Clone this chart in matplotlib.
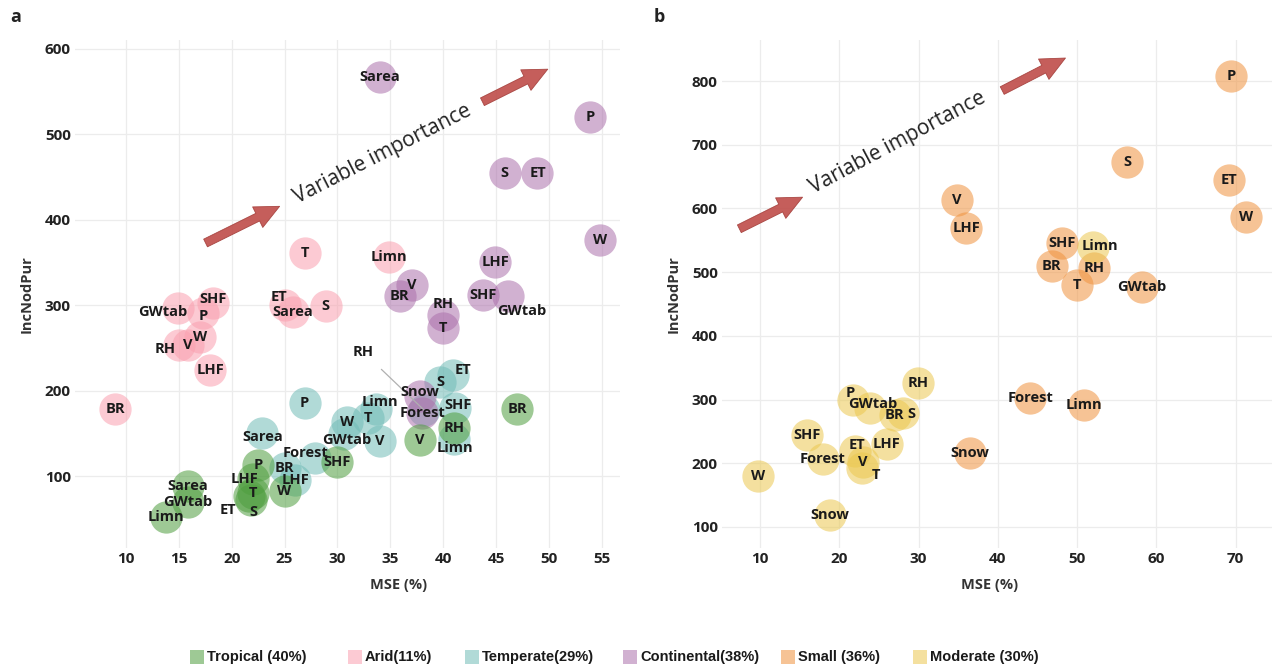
import matplotlib
matplotlib.use("Agg")
import matplotlib.pyplot as plt
from matplotlib.lines import Line2D

plt.rcParams["font.family"] = ["Open Sans", "DejaVu Sans"]

# ---------------- panel a: climate zones ----------------
trop_lab = ["Sarea", "GWtab", "Limn", "P", "LHF", "T", "S", "ET", "W", "SHF", "V", "RH", "BR"]
trop_mse = [15.9, 15.9, 13.8, 22.5, 22.0, 22.0, 21.8, 21.6, 25.0, 30.0, 37.8, 41.0, 47.0]
trop_inc = [88, 69, 52, 113, 96, 80, 72, 77, 83, 116, 142, 156, 178]

arid_lab = ["BR", "GWtab", "SHF", "P", "RH", "V", "W", "LHF", "T", "ET", "Sarea", "S", "Limn"]
arid_mse = [9.0, 14.9, 18.2, 17.3, 15.0, 15.9, 17.0, 18.0, 26.9, 25.0, 25.8, 28.9, 34.9]
arid_inc = [178, 297, 302, 291, 253, 253, 263, 224, 361, 300, 292, 299, 356]

temp_lab = ["Sarea", "P", "W", "T", "Limn", "V", "GWtab", "Forest", "LHF", "BR",
            "S", "ET", "SHF", "Limn", "RH"]
temp_mse = [22.9, 26.9, 30.9, 32.9, 33.6, 34.0, 30.6, 27.9, 26.0, 25.0,
            39.7, 40.9, 41.1, 41.0, 38.2]
temp_inc = [150, 186, 163, 168, 178, 141, 149, 121, 95, 109,
            210, 218, 180, 143, 177]

cont_lab = ["Sarea", "P", "S", "ET", "W", "LHF", "V", "BR", "SHF", "GWtab",
            "RH", "T", "Snow", "Forest"]
cont_mse = [34.0, 53.9, 45.8, 48.9, 54.8, 44.9, 37.0, 35.9, 43.8, 46.1,
            40.0, 40.0, 37.8, 38.0]
cont_inc = [567, 520, 455, 455, 376, 351, 324, 311, 312, 311,
            288, 273, 194, 174]

# ---------------- panel b: catchment size ----------------
small_lab = ["P", "S", "ET", "W", "V", "LHF", "SHF", "BR", "T", "RH", "GWtab",
             "Forest", "Limn", "Snow"]
small_mse = [69.4, 56.3, 69.2, 71.3, 34.8, 36.0, 48.1, 46.8, 50.0, 52.1, 58.2,
             44.1, 50.9, 36.5]
small_inc = [808, 673, 645, 587, 614, 570, 546, 509, 480, 507, 477,
             303, 292, 216]

mod_lab = ["Limn", "RH", "P", "GWtab", "BR", "S", "SHF", "Forest", "ET", "LHF",
           "V", "T", "W", "Snow"]
mod_mse = [52.0, 29.9, 21.7, 23.9, 27.0, 28.0, 15.9, 17.9, 22.0, 26.0,
           23.0, 22.9, 9.8, 18.8]
mod_inc = [539, 326, 300, 287, 276, 279, 245, 207, 220, 231,
           202, 192, 180, 119]

legend_names = ["Tropical (40%)", "Arid(11%)", "Temperate(29%)",
                "Continental(38%)", "Small (36%)", "Moderate (30%)"]

COLORS = {
    "tropical":    "#4f9e3f",
    "arid":        "#faa0af",
    "temperate":   "#71bcb7",
    "continental": "#ac71ac",
    "small":       "#f0933f",
    "moderate":    "#ebc850",
}
ARROW = "#c0504d"

# label nudges in points, keyed by (group, label, n-th occurrence)
NUDGE = {
    ("tropical", "LHF", 0): (-6, 0), ("tropical", "S", 0): (2, -9),
    ("tropical", "ET", 0): (-15, -10),
    ("arid", "GWtab", 0): (-11, -3), ("arid", "SHF", 0): (0, 3),
    ("arid", "P", 0): (0, -2), ("arid", "RH", 0): (-10, -3),
    ("arid", "ET", 0): (-4, 6),
    ("temperate", "Sarea", 0): (0, -3), ("temperate", "GWtab", 0): (2, -4),
    ("temperate", "Forest", 0): (-7, 4), ("temperate", "ET", 0): (7, 4),
    ("temperate", "Limn", 0): (3, 5), ("temperate", "Limn", 1): (1, -6),
    ("temperate", "SHF", 0): (2, 2),
    ("continental", "GWtab", 0): (10, -11), ("continental", "RH", 0): (0, 8),
    ("continental", "Snow", 0): (0, 3),
    ("moderate", "Limn", 0): (5, 1), ("moderate", "P", 0): (-2, 5),
    ("moderate", "GWtab", 0): (2, 3), ("moderate", "S", 0): (6, -1),
    ("moderate", "ET", 0): (1, 4), ("moderate", "T", 0): (10, -5),
}
# labels pulled away from their circle with a thin leader line
LEADER = {("temperate", "RH", 0): (-44, 42)}


def draw_group(ax, group, labels, xs, ys):
    ax.scatter(xs, ys, s=540, color=COLORS[group], alpha=0.55,
               linewidths=0, zorder=2)
    seen = {}
    for lab, x, y in zip(labels, xs, ys):
        n = seen.get(lab, 0)
        seen[lab] = n + 1
        key = (group, lab, n)
        if key in LEADER:
            ax.annotate(lab, (x, y), xytext=LEADER[key], textcoords="offset points",
                        ha="center", va="center", fontsize=10.5,
                        fontweight="bold", color="#1a1a1a", zorder=5,
                        arrowprops=dict(arrowstyle="-", color="#b0b0b0",
                                        lw=0.9, shrinkA=8, shrinkB=0))
            continue
        dx, dy = NUDGE.get(key, (0, 0))
        ax.annotate(lab, (x, y), xytext=(dx, dy), textcoords="offset points",
                    ha="center", va="center", fontsize=10.5,
                    fontweight="bold", color="#1a1a1a", zorder=5)


def style_axes(ax, letter, lx, xlab_x):
    ax.grid(True, color="#ececec", linewidth=0.9)
    ax.set_axisbelow(True)
    for sp in ax.spines.values():
        sp.set_visible(False)
    ax.tick_params(length=0, labelsize=11, pad=3, colors="#222222")
    for t in ax.get_xticklabels() + ax.get_yticklabels():
        t.set_fontweight("bold")
    ax.set_xlabel("MSE (%)", fontsize=10.5, fontweight="bold", color="#333333")
    ax.xaxis.set_label_coords(xlab_x, -0.06)
    ax.set_ylabel("IncNodPur", fontsize=10.5, fontweight="bold",
                  color="#333333", labelpad=8)
    ax.figure.text(lx, 0.975, letter, fontsize=13, fontweight="bold",
                   va="center", color="#222222")


def importance_arrow(ax, tail1, head1, tail2, head2, txt_xy, angle):
    for tail, head in [(tail1, head1), (tail2, head2)]:
        ax.annotate("", xy=head, xytext=tail, xycoords="axes fraction",
                    textcoords="axes fraction", zorder=3,
                    arrowprops=dict(arrowstyle="simple,head_length=0.8,"
                                    "head_width=0.75,tail_width=0.28",
                                    mutation_scale=22, fc=ARROW,
                                    ec="#a5403c", lw=0.6, alpha=0.92))
    ax.text(*txt_xy, "Variable importance", transform=ax.transAxes,
            rotation=angle, rotation_mode="anchor", ha="center", va="center",
            fontsize=15, color="#222222", zorder=4)


fig = plt.figure(figsize=(12.76, 6.71), dpi=100)
ax_a = fig.add_axes([75 / 1276, 1 - 548 / 671, 545 / 1276, 508 / 671])
ax_b = fig.add_axes([722 / 1276, 1 - 548 / 671, 550 / 1276, 508 / 671])

draw_group(ax_a, "arid", arid_lab, arid_mse, arid_inc)
draw_group(ax_a, "temperate", temp_lab, temp_mse, temp_inc)
draw_group(ax_a, "continental", cont_lab, cont_mse, cont_inc)
draw_group(ax_a, "tropical", trop_lab, trop_mse, trop_inc)
ax_a.set_xlim(5.2, 56.7)
ax_a.set_ylim(15.7, 610.5)
ax_a.set_xticks([10, 15, 20, 25, 30, 35, 40, 45, 50, 55])
ax_a.set_yticks([100, 200, 300, 400, 500, 600])
style_axes(ax_a, "a", 0.008, 0.593)
importance_arrow(ax_a, (0.235, 0.598), (0.380, 0.675),
                 (0.743, 0.876), (0.872, 0.945), (0.565, 0.776), 27)

draw_group(ax_b, "small", small_lab, small_mse, small_inc)
draw_group(ax_b, "moderate", mod_lab, mod_mse, mod_inc)
ax_b.set_xlim(5.2, 74.6)
ax_b.set_ylim(67, 864.5)
ax_b.set_xticks([10, 20, 30, 40, 50, 60, 70])
ax_b.set_yticks([100, 200, 300, 400, 500, 600, 700, 800])
style_axes(ax_b, "b", 0.512, 0.487)
importance_arrow(ax_b, (0.027, 0.626), (0.151, 0.693),
                 (0.505, 0.898), (0.629, 0.967), (0.32, 0.797), 28)

# legend row: square swatch + bold label, placed along the bottom
legend_x = [197, 355, 472, 630, 788, 920]
legend_y = 1 - 657 / 671
for name, key, x in zip(legend_names,
                        ["tropical", "arid", "temperate", "continental", "small", "moderate"],
                        legend_x):
    fig.add_artist(Line2D([x / 1276], [legend_y], transform=fig.transFigure,
                          marker="s", markersize=10, linestyle="",
                          markerfacecolor=COLORS[key], markeredgewidth=0,
                          alpha=0.55))
    fig.text((x + 10) / 1276, legend_y, name, va="center", ha="left",
             fontsize=10.5, fontweight="bold", color="#1a1a1a",
             family=["Liberation Sans Narrow", "Liberation Sans", "DejaVu Sans"])

fig.savefig("out.png", dpi=100, facecolor="white")
